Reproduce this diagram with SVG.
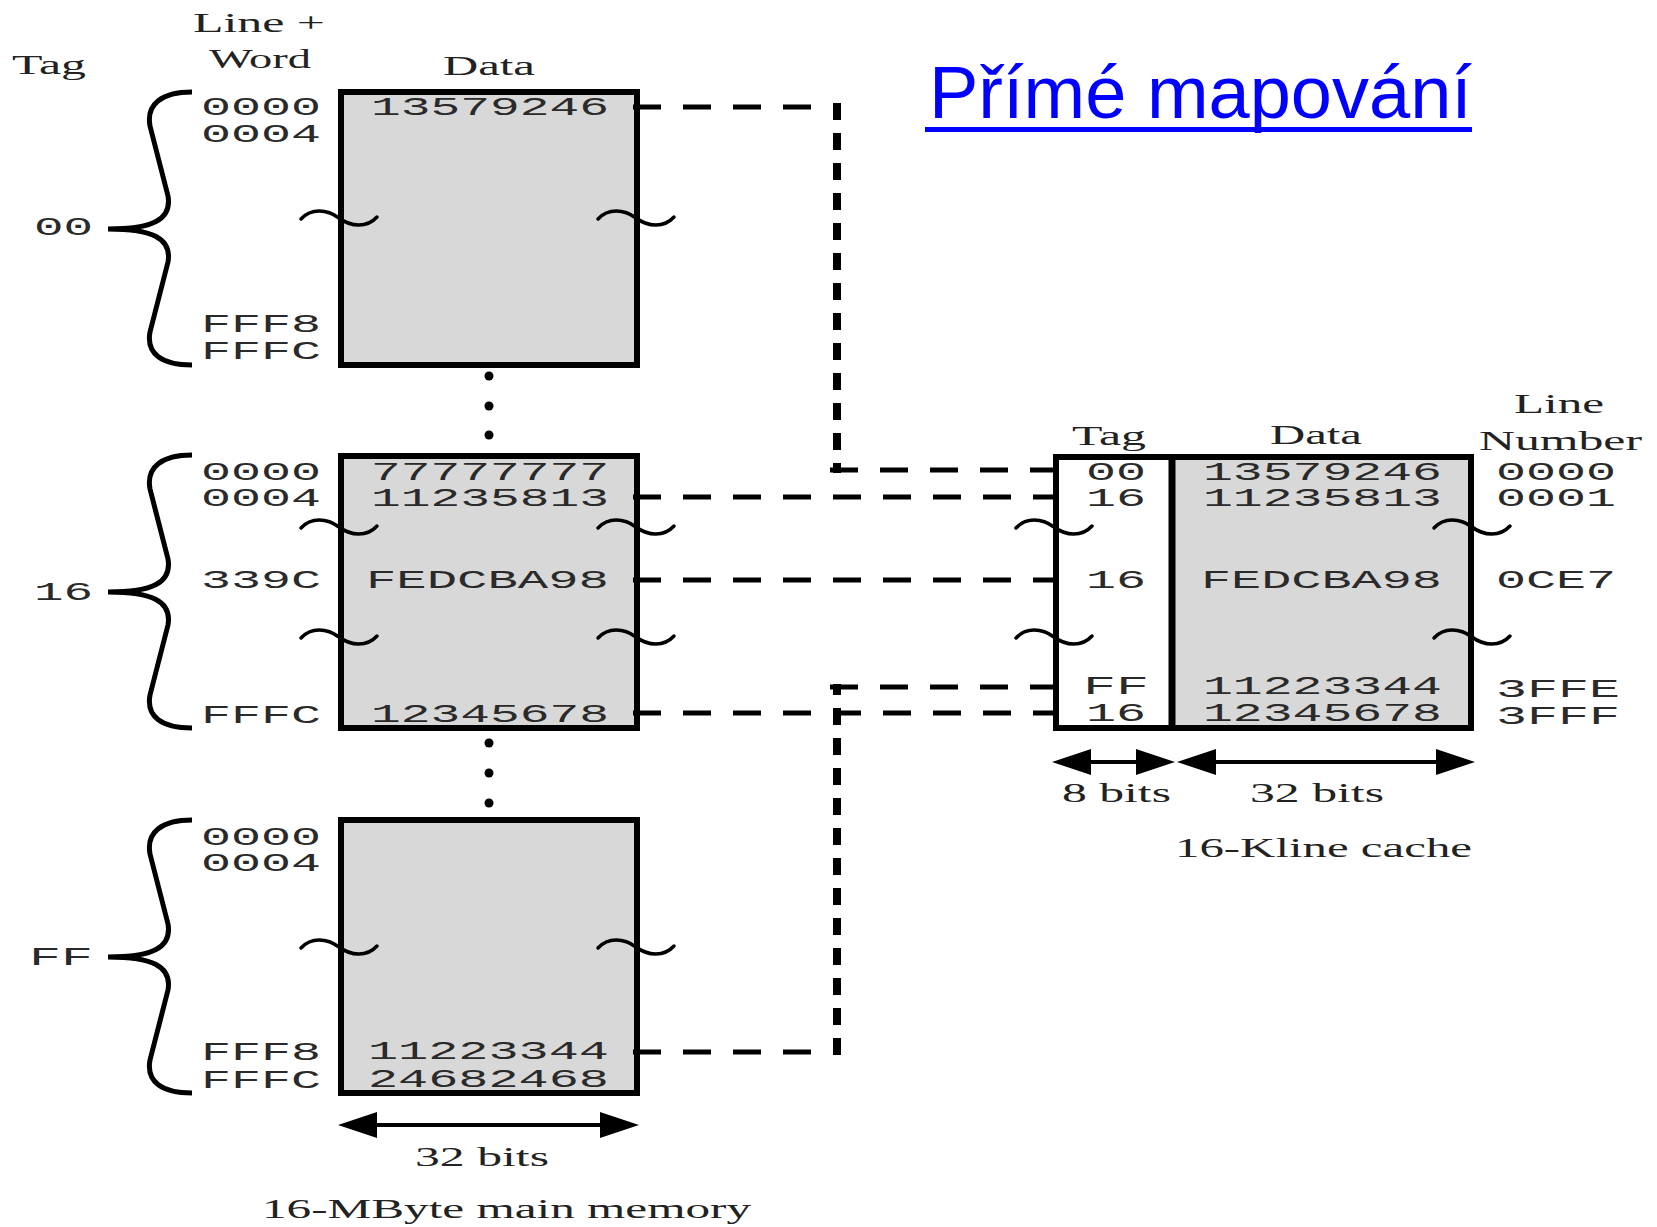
<svg xmlns="http://www.w3.org/2000/svg" xmlns:xlink="http://www.w3.org/1999/xlink" width="1657" height="1227" viewBox="0 0 1657 1227">
<style>
.mono{font-family:"Liberation Mono","Courier New",monospace;font-size:26px;fill:#2a2a2a}
.ser{font-family:"Liberation Serif","Times New Roman",serif;font-size:28px;fill:#222}
.title{font-family:"Liberation Sans",Arial,sans-serif;font-size:74px;fill:#0000ff}
.box{fill:#d8d8d8;stroke:#000;stroke-width:6}
.brace{fill:none;stroke:#000;stroke-width:5;stroke-linejoin:round}
.sq{fill:none;stroke:#000;stroke-width:3.5;stroke-linecap:round}
.hd{fill:none;stroke:#000;stroke-width:5;stroke-dasharray:28 22}
.vd{fill:none;stroke:#000;stroke-width:8;stroke-dasharray:17 13}
.arr{fill:none;stroke:#000;stroke-width:4;marker-start:url(#ah);marker-end:url(#ah)}
</style>
<defs>
<marker id="ah" viewBox="0 0 39 26" refX="33" refY="13" markerWidth="39" markerHeight="26" markerUnits="userSpaceOnUse" orient="auto-start-reverse">
<path d="M0,0 L39,13 L0,26 Z" fill="#000"/>
</marker>
<path id="brace" d="M192,0 C162,0 146,12 150,34 L168,104 C172,128 152,137 108,137 M108,137 C152,137 172,146 168,170 L150,240 C146,262 162,273 192,273"/>
<path id="sq" d="M-38,1 C-28,-10 -12,-9 0,0 C12,9 28,10 38,-1"/>
</defs>

<g id="title">
<text class="title" x="929" y="118">Přímé mapování</text>
<line x1="925" y1="129.5" x2="1472" y2="129.5" stroke="#0000ff" stroke-width="5"/>
</g>

<g id="mem-headers">
<text class="ser" x="12" y="74" textLength="74" lengthAdjust="spacingAndGlyphs">Tag</text>
<text class="ser" x="193" y="32" textLength="132" lengthAdjust="spacingAndGlyphs">Line +</text>
<text class="ser" x="209" y="68" textLength="102" lengthAdjust="spacingAndGlyphs">Word</text>
<text class="ser" x="443" y="75" textLength="92" lengthAdjust="spacingAndGlyphs">Data</text>
</g>

<g id="block-00">
<use xlink:href="#brace" href="#brace" class="brace" transform="translate(0,92)"/>
<text class="mono" x="34" y="235" textLength="59" lengthAdjust="spacingAndGlyphs">00</text>
<rect class="box" x="341" y="92" width="296" height="273"/>
<text class="mono" x="201" y="115" textLength="120" lengthAdjust="spacingAndGlyphs">0000</text>
<text class="mono" x="201" y="142" textLength="120" lengthAdjust="spacingAndGlyphs">0004</text>
<text class="mono" x="201" y="332" textLength="120" lengthAdjust="spacingAndGlyphs">FFF8</text>
<text class="mono" x="201" y="359" textLength="120" lengthAdjust="spacingAndGlyphs">FFFC</text>
<text class="mono" x="371" y="115" textLength="238" lengthAdjust="spacingAndGlyphs">13579246</text>
<use xlink:href="#sq" href="#sq" class="sq" transform="translate(339,218)"/>
<use xlink:href="#sq" href="#sq" class="sq" transform="translate(636,218)"/>
</g>

<g id="dots-1">
<circle cx="489" cy="376" r="4.5"/>
<circle cx="489" cy="406" r="4.5"/>
<circle cx="489" cy="435" r="4.5"/>
</g>

<g id="block-16">
<use xlink:href="#brace" href="#brace" class="brace" transform="translate(0,455)"/>
<text class="mono" x="34" y="600" textLength="59" lengthAdjust="spacingAndGlyphs">16</text>
<rect class="box" x="341" y="456" width="296" height="272"/>
<text class="mono" x="201" y="480" textLength="120" lengthAdjust="spacingAndGlyphs">0000</text>
<text class="mono" x="201" y="506" textLength="120" lengthAdjust="spacingAndGlyphs">0004</text>
<text class="mono" x="201" y="588" textLength="120" lengthAdjust="spacingAndGlyphs">339C</text>
<text class="mono" x="201" y="723" textLength="120" lengthAdjust="spacingAndGlyphs">FFFC</text>
<text class="mono" x="371" y="480" textLength="238" lengthAdjust="spacingAndGlyphs">77777777</text>
<text class="mono" x="371" y="506" textLength="238" lengthAdjust="spacingAndGlyphs">11235813</text>
<text class="mono" x="366" y="588" textLength="243" lengthAdjust="spacingAndGlyphs">FEDCBA98</text>
<text class="mono" x="371" y="722" textLength="238" lengthAdjust="spacingAndGlyphs">12345678</text>
<use xlink:href="#sq" href="#sq" class="sq" transform="translate(339,527)"/>
<use xlink:href="#sq" href="#sq" class="sq" transform="translate(636,527)"/>
<use xlink:href="#sq" href="#sq" class="sq" transform="translate(339,637)"/>
<use xlink:href="#sq" href="#sq" class="sq" transform="translate(636,637)"/>
</g>

<g id="dots-2">
<circle cx="489" cy="743" r="4.5"/>
<circle cx="489" cy="773" r="4.5"/>
<circle cx="489" cy="803" r="4.5"/>
</g>

<g id="block-FF">
<use xlink:href="#brace" href="#brace" class="brace" transform="translate(0,820)"/>
<text class="mono" x="29" y="965" textLength="64" lengthAdjust="spacingAndGlyphs">FF</text>
<rect class="box" x="341" y="820" width="296" height="273"/>
<text class="mono" x="201" y="845" textLength="120" lengthAdjust="spacingAndGlyphs">0000</text>
<text class="mono" x="201" y="871" textLength="120" lengthAdjust="spacingAndGlyphs">0004</text>
<text class="mono" x="201" y="1060" textLength="120" lengthAdjust="spacingAndGlyphs">FFF8</text>
<text class="mono" x="201" y="1088" textLength="120" lengthAdjust="spacingAndGlyphs">FFFC</text>
<text class="mono" x="368" y="1059" textLength="241" lengthAdjust="spacingAndGlyphs">11223344</text>
<text class="mono" x="368" y="1087" textLength="241" lengthAdjust="spacingAndGlyphs">24682468</text>
<use xlink:href="#sq" href="#sq" class="sq" transform="translate(339,947)"/>
<use xlink:href="#sq" href="#sq" class="sq" transform="translate(636,947)"/>
</g>

<g id="mem-width">
<line class="arr" x1="344" y1="1125" x2="633" y2="1125"/>
<text class="ser" x="415" y="1166" textLength="134" lengthAdjust="spacingAndGlyphs">32 bits</text>
<text class="ser" x="262" y="1218" textLength="489" lengthAdjust="spacingAndGlyphs">16-MByte main memory</text>
</g>

<g id="cache">
<text class="ser" x="1072" y="445" textLength="74" lengthAdjust="spacingAndGlyphs">Tag</text>
<text class="ser" x="1270" y="444" textLength="92" lengthAdjust="spacingAndGlyphs">Data</text>
<text class="ser" x="1514" y="413" textLength="90" lengthAdjust="spacingAndGlyphs">Line</text>
<text class="ser" x="1479" y="450" textLength="163" lengthAdjust="spacingAndGlyphs">Number</text>
<rect x="1056" y="457" width="415" height="271" fill="#fff"/>
<rect x="1172" y="457" width="299" height="271" fill="#d8d8d8"/>
<rect x="1056" y="457" width="415" height="271" fill="none" stroke="#000" stroke-width="6"/>
<line x1="1172" y1="457" x2="1172" y2="728" stroke="#000" stroke-width="7"/>
<text class="mono" x="1086" y="480" textLength="60" lengthAdjust="spacingAndGlyphs">00</text>
<text class="mono" x="1086" y="506" textLength="60" lengthAdjust="spacingAndGlyphs">16</text>
<text class="mono" x="1086" y="588" textLength="60" lengthAdjust="spacingAndGlyphs">16</text>
<text class="mono" x="1083" y="694" textLength="66" lengthAdjust="spacingAndGlyphs">FF</text>
<text class="mono" x="1086" y="721" textLength="60" lengthAdjust="spacingAndGlyphs">16</text>
<text class="mono" x="1203" y="480" textLength="239" lengthAdjust="spacingAndGlyphs">13579246</text>
<text class="mono" x="1203" y="506" textLength="239" lengthAdjust="spacingAndGlyphs">11235813</text>
<text class="mono" x="1201" y="588" textLength="241" lengthAdjust="spacingAndGlyphs">FEDCBA98</text>
<text class="mono" x="1203" y="694" textLength="239" lengthAdjust="spacingAndGlyphs">11223344</text>
<text class="mono" x="1203" y="721" textLength="239" lengthAdjust="spacingAndGlyphs">12345678</text>
<text class="mono" x="1496" y="480" textLength="120" lengthAdjust="spacingAndGlyphs">0000</text>
<text class="mono" x="1496" y="506" textLength="120" lengthAdjust="spacingAndGlyphs">0001</text>
<text class="mono" x="1496" y="588" textLength="120" lengthAdjust="spacingAndGlyphs">0CE7</text>
<text class="mono" x="1496" y="697" textLength="124" lengthAdjust="spacingAndGlyphs">3FFE</text>
<text class="mono" x="1496" y="724" textLength="124" lengthAdjust="spacingAndGlyphs">3FFF</text>
<use xlink:href="#sq" href="#sq" class="sq" transform="translate(1054,527)"/>
<use xlink:href="#sq" href="#sq" class="sq" transform="translate(1472,527)"/>
<use xlink:href="#sq" href="#sq" class="sq" transform="translate(1054,637)"/>
<use xlink:href="#sq" href="#sq" class="sq" transform="translate(1472,637)"/>
<line class="arr" x1="1058" y1="762" x2="1169" y2="762"/>
<line class="arr" x1="1183" y1="762" x2="1469" y2="762"/>
<text class="ser" x="1062" y="802" textLength="109" lengthAdjust="spacingAndGlyphs">8 bits</text>
<text class="ser" x="1250" y="802" textLength="134" lengthAdjust="spacingAndGlyphs">32 bits</text>
<text class="ser" x="1175" y="857" textLength="297" lengthAdjust="spacingAndGlyphs">16-Kline cache</text>
</g>

<g id="connectors">
<path class="hd" d="M633,107 H812"/>
<path class="vd" d="M837,103 V473"/>
<path class="hd" d="M830,470 H1056"/>
<path class="hd" d="M633,497 H1056"/>
<path class="hd" d="M633,580 H1056"/>
<path class="hd" d="M830,687 H1056"/>
<path class="hd" d="M633,713 H1056"/>
<path class="vd" d="M837,1055 V684"/>
<path class="hd" d="M633,1052 H816"/>
</g>
</svg>
